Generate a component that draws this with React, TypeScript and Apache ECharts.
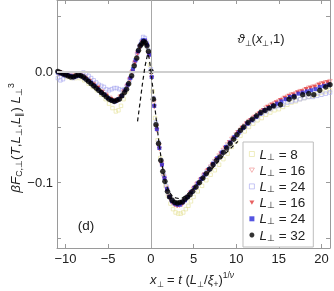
import React, { useEffect, useRef } from 'react';
import * as echarts from 'echarts';

const xTicks = [-10, -5, 0, 5, 10, 15, 20];
const yTicks = [-0.15, -0.1, -0.05, 0, 0.05];
const yLabeled = [-0.1, 0];

const L8open = [
  [-10.8, -0.002], [-10.3, -0.003], [-9.8, -0.005], [-9.3, -0.006], [-8.8, -0.006], [-8.3, -0.006], [-7.8, -0.008], [-7.3, -0.011], [-6.8, -0.014], [-6.3, -0.017], [-5.8, -0.021], [-5.3, -0.025], [-4.9, -0.029], [-4.5, -0.033], [-4.1, -0.036], [-3.8, -0.035], [-3.5, -0.031], [-3.2, -0.025], [-2.9, -0.018], [-2.6, -0.011], [-2.3, -0.003], [-2.0, 0.005], [-1.7, 0.012], [-1.4, 0.019], [-1.1, 0.024], [-0.85, 0.026], [-0.6, 0.025], [-0.35, 0.019], [-0.1, 0.006], [0.2, -0.018], [0.5, -0.042], [0.8, -0.062], [1.1, -0.078], [1.4, -0.092], [1.7, -0.103], [2.0, -0.112], [2.3, -0.119], [2.6, -0.124], [2.9, -0.127], [3.2, -0.128], [3.5, -0.128], [3.8, -0.127], [4.1, -0.124], [4.4, -0.121], [4.7, -0.117], [5.0, -0.113], [5.5, -0.108], [6.0, -0.103], [6.5, -0.098], [7.0, -0.093], [7.5, -0.089], [8.0, -0.084], [8.5, -0.079], [9.0, -0.074], [9.5, -0.068], [10.0, -0.063], [10.5, -0.058], [11.0, -0.054], [11.5, -0.050], [12.0, -0.047], [12.5, -0.044], [13.0, -0.042], [13.5, -0.039], [14.0, -0.037], [14.5, -0.035], [15.0, -0.034], [15.5, -0.032], [16.0, -0.030], [16.5, -0.028], [17.0, -0.027], [17.5, -0.025], [18.0, -0.024], [18.5, -0.023], [19.0, -0.022], [19.5, -0.020], [20.0, -0.019], [20.5, -0.018], [21.0, -0.017],
];

const L16open = [
  [-10.8, -0.002], [-10.3, -0.003], [-9.8, -0.004], [-9.3, -0.004], [-8.8, -0.003], [-8.3, -0.003], [-7.8, -0.005], [-7.3, -0.008], [-6.8, -0.011], [-6.3, -0.014], [-5.8, -0.018], [-5.3, -0.021], [-4.8, -0.024], [-4.4, -0.026], [-4.0, -0.026], [-3.6, -0.023], [-3.2, -0.019], [-2.8, -0.014], [-2.5, -0.008], [-2.2, -0.001], [-1.9, 0.007], [-1.6, 0.015], [-1.3, 0.022], [-1.0, 0.026], [-0.75, 0.027], [-0.5, 0.024], [-0.25, 0.016], [0.05, -0.002], [0.35, -0.028], [0.65, -0.050], [0.95, -0.067], [1.25, -0.083], [1.55, -0.095], [1.85, -0.105], [2.15, -0.113], [2.45, -0.118], [2.75, -0.120], [3.05, -0.121], [3.35, -0.121], [3.65, -0.120], [3.95, -0.117], [4.25, -0.114], [4.6, -0.110], [5.0, -0.106], [5.4, -0.102], [5.8, -0.098], [6.2, -0.094], [6.6, -0.090], [7.0, -0.086], [7.5, -0.081], [8.0, -0.076], [8.5, -0.071], [9.0, -0.066], [9.5, -0.061], [10.0, -0.057], [10.5, -0.053], [11.0, -0.049], [11.5, -0.045], [12.0, -0.042], [12.5, -0.039], [13.0, -0.036], [13.5, -0.033], [14.0, -0.031], [14.5, -0.029], [15.0, -0.027], [15.5, -0.025], [16.0, -0.023], [16.5, -0.021], [17.0, -0.020], [17.5, -0.018], [18.0, -0.017], [18.5, -0.015], [19.0, -0.014], [19.5, -0.013], [20.0, -0.011], [20.5, -0.010], [21.0, -0.009],
];

const L24open = [
  [-10.9, -0.006], [-10.6, -0.008], [-10.3, -0.007], [-10.0, -0.004], [-9.7, -0.002], [-9.4, -0.004], [-9.1, -0.006], [-8.8, -0.005], [-8.5, -0.003], [-8.2, -0.002], [-7.9, -0.001], [-7.6, -0.002], [-7.3, -0.004], [-7.0, -0.006], [-6.7, -0.008], [-6.4, -0.010], [-6.1, -0.012], [-5.8, -0.013], [-5.5, -0.014], [-5.2, -0.016], [-4.9, -0.017], [-4.6, -0.016], [-4.3, -0.015], [-4.0, -0.015], [-3.7, -0.016], [-3.4, -0.017], [-3.1, -0.016], [-2.8, -0.013], [-2.5, -0.008], [-2.2, -0.001], [-1.9, 0.007], [-1.6, 0.016], [-1.35, 0.022], [-1.1, 0.027], [-0.9, 0.031], [-0.7, 0.030], [-0.5, 0.026], [-0.3, 0.019], [0.0, 0.002], [0.3, -0.024], [0.6, -0.046], [0.9, -0.064], [1.2, -0.080], [1.5, -0.093], [1.8, -0.103], [2.1, -0.111], [2.4, -0.116], [2.7, -0.118], [3.0, -0.119], [3.3, -0.119], [3.6, -0.118], [3.9, -0.116], [4.2, -0.114], [4.5, -0.111], [4.8, -0.108], [5.2, -0.104], [5.6, -0.100], [6.0, -0.096], [6.5, -0.091], [7.0, -0.086], [7.5, -0.081], [8.0, -0.077], [8.5, -0.072], [9.0, -0.067], [9.5, -0.062], [10.0, -0.058], [10.5, -0.054], [11.0, -0.050], [11.5, -0.047], [12.0, -0.044], [12.5, -0.041], [13.0, -0.038], [13.5, -0.036], [14.0, -0.034], [14.5, -0.032], [15.0, -0.031], [15.5, -0.030], [16.0, -0.028], [16.5, -0.027], [17.0, -0.026], [17.5, -0.025], [18.0, -0.024], [18.5, -0.023], [19.0, -0.023], [19.5, -0.022], [20.0, -0.021], [20.5, -0.020], [21.0, -0.019],
];

const L16filled = [
  [-10.7, -0.001], [-10.2, -0.002], [-9.7, -0.004], [-9.2, -0.005], [-8.7, -0.004], [-8.2, -0.004], [-7.7, -0.006], [-7.2, -0.009], [-6.7, -0.012], [-6.2, -0.015], [-5.7, -0.019], [-5.2, -0.022], [-4.7, -0.025], [-4.3, -0.027], [-3.9, -0.026], [-3.5, -0.023], [-3.1, -0.018], [-2.75, -0.013], [-2.45, -0.007], [-2.15, 0.000], [-1.85, 0.008], [-1.55, 0.016], [-1.25, 0.022], [-0.95, 0.026], [-0.7, 0.027], [-0.45, 0.023], [-0.2, 0.014], [0.1, -0.006], [0.4, -0.032], [0.7, -0.053], [1.0, -0.070], [1.3, -0.085], [1.6, -0.097], [1.9, -0.107], [2.2, -0.114], [2.5, -0.118], [2.8, -0.120], [3.1, -0.121], [3.4, -0.120], [3.7, -0.119], [4.0, -0.116], [4.35, -0.113], [4.7, -0.109], [5.1, -0.105], [5.5, -0.101], [5.9, -0.097], [6.3, -0.093], [6.7, -0.089], [7.2, -0.084], [7.7, -0.079], [8.2, -0.074], [8.7, -0.069], [9.2, -0.064], [9.7, -0.060], [10.2, -0.055], [10.7, -0.051], [11.2, -0.047], [11.7, -0.044], [12.2, -0.041], [12.7, -0.038], [13.2, -0.035], [13.7, -0.032], [14.2, -0.030], [14.7, -0.028], [15.2, -0.026], [15.7, -0.024], [16.2, -0.022], [16.7, -0.021], [17.2, -0.019], [17.7, -0.018], [18.2, -0.016], [18.7, -0.015], [19.2, -0.014], [19.7, -0.012], [20.2, -0.011], [20.7, -0.010],
];

const L24filled = [
  [-10.9, -0.001], [-10.6, -0.002], [-10.2, -0.003], [-9.8, -0.003], [-9.4, -0.004], [-9.0, -0.005], [-8.6, -0.004], [-8.2, -0.004], [-7.8, -0.006], [-7.4, -0.008], [-7.0, -0.010], [-6.6, -0.013], [-6.2, -0.016], [-5.8, -0.019], [-5.4, -0.021], [-5.0, -0.024], [-4.6, -0.026], [-4.2, -0.027], [-3.8, -0.025], [-3.4, -0.022], [-3.0, -0.017], [-2.7, -0.012], [-2.4, -0.006], [-2.1, 0.002], [-1.8, 0.010], [-1.5, 0.018], [-1.2, 0.024], [-0.95, 0.028], [-0.7, 0.028], [-0.45, 0.024], [-0.2, 0.015], [0.1, -0.005], [0.4, -0.031], [0.7, -0.052], [1.0, -0.069], [1.3, -0.084], [1.6, -0.096], [1.9, -0.106], [2.2, -0.113], [2.5, -0.117], [2.8, -0.119], [3.1, -0.120], [3.4, -0.120], [3.7, -0.118], [4.0, -0.116], [4.3, -0.113], [4.7, -0.109], [5.1, -0.105], [5.5, -0.101], [5.9, -0.097], [6.3, -0.093], [6.8, -0.088], [7.3, -0.083], [7.8, -0.078], [8.3, -0.073], [8.8, -0.068], [9.3, -0.064], [9.8, -0.059], [10.3, -0.055], [10.8, -0.051], [11.3, -0.047], [11.8, -0.044], [12.3, -0.041], [12.8, -0.038], [13.3, -0.035], [13.8, -0.033], [14.3, -0.031], [14.8, -0.029], [15.3, -0.027], [15.8, -0.025], [16.3, -0.023], [16.8, -0.022], [17.3, -0.020], [17.8, -0.019], [18.3, -0.018], [18.8, -0.017], [19.3, -0.016], [19.8, -0.014], [20.3, -0.013], [20.8, -0.012],
];

const L32filled = [
  [-10.9, 0.000], [-10.6, -0.001], [-10.3, -0.002], [-10.0, -0.003], [-9.7, -0.004], [-9.4, -0.005], [-9.1, -0.005], [-8.8, -0.004], [-8.5, -0.003], [-8.2, -0.004], [-7.9, -0.005], [-7.6, -0.007], [-7.3, -0.009], [-7.0, -0.011], [-6.7, -0.013], [-6.4, -0.015], [-6.1, -0.017], [-5.8, -0.019], [-5.5, -0.021], [-5.2, -0.023], [-4.9, -0.025], [-4.6, -0.026], [-4.3, -0.027], [-4.0, -0.026], [-3.7, -0.025], [-3.4, -0.022], [-3.1, -0.019], [-2.85, -0.016], [-2.6, -0.011], [-2.25, -0.004], [-1.95, 0.005], [-1.65, 0.012], [-1.45, 0.019], [-1.25, 0.023], [-1.05, 0.025], [-0.85, 0.027], [-0.65, 0.026], [-0.45, 0.023], [-0.28, 0.018], [0.04, 0.000], [0.3, -0.025], [0.6, -0.048], [0.9, -0.065], [1.17, -0.080], [1.4, -0.090], [1.65, -0.099], [1.95, -0.108], [2.2, -0.113], [2.5, -0.116], [2.8, -0.118], [3.1, -0.1185], [3.4, -0.118], [3.7, -0.1175], [4.0, -0.115], [4.3, -0.113], [4.6, -0.111], [4.9, -0.108], [5.3, -0.104], [5.7, -0.100], [6.1, -0.096], [6.5, -0.092], [6.9, -0.088], [7.3, -0.084], [7.7, -0.080], [8.1, -0.077], [8.5, -0.073], [8.9, -0.069], [9.3, -0.065], [9.7, -0.061], [10.1, -0.057], [10.5, -0.053], [10.9, -0.050], [11.4, -0.046], [11.9, -0.043], [12.4, -0.040], [12.9, -0.037], [13.4, -0.035], [13.9, -0.033], [14.4, -0.031], [15.2, -0.030], [16.2, -0.025], [16.8, -0.023], [17.8, -0.021], [18.5, -0.020], [19.1, -0.021], [19.8, -0.017], [20.5, -0.014], [21.0, -0.012],
];

const theory = [
  [-1.56, -0.045], [-1.3, -0.030], [-1.0, -0.012], [-0.7, 0.004], [-0.45, 0.013], [-0.35, 0.016], [-0.2, 0.012], [0.0, 0.001], [0.3, -0.020], [0.6, -0.041], [0.9, -0.061], [1.2, -0.078], [1.5, -0.092], [1.8, -0.102], [2.1, -0.108], [2.5, -0.112], [2.9, -0.1138], [3.3, -0.1145], [3.7, -0.114], [4.2, -0.111], [4.8, -0.107], [5.5, -0.102], [6.2, -0.096], [7.0, -0.089], [7.8, -0.082], [8.6, -0.075], [9.4, -0.069], [10.2, -0.063],
];

const FONT = 'Liberation Sans, Arial, sans-serif';
const DOWN_TRI = 'path://M0,0L10,0L5,8.66Z';

const legendLabels: Record<string, string> = {
  a: '8',
  b: '16',
  c: '24',
  d: '16',
  e: '24',
  f: '32',
};

const minus = (s: string) => s.replace('-', '\u2212');

export default function App() {
  const ref = useRef<HTMLDivElement>(null);
  useEffect(() => {
    if (!ref.current) return;
    const chart = echarts.init(ref.current, undefined, { renderer: 'svg' });
    const frame = '#9a9a9a';
    const xMin = -11, xMax = 21, yMin = -0.159, yMax = 0.0643;
    const xAxisBase = {
      type: 'value', min: xMin, max: xMax,
      axisLine: { show: true, onZero: false, lineStyle: { color: frame, width: 1 } },
      axisTick: { show: true, inside: true, length: 4, customValues: xTicks, lineStyle: { color: frame } },
      splitLine: { show: false },
    };
    const yAxisBase = {
      type: 'value', min: yMin, max: yMax,
      axisLine: { show: true, onZero: false, lineStyle: { color: frame, width: 1 } },
      axisTick: { show: true, inside: true, length: 4, customValues: yTicks, lineStyle: { color: frame } },
      splitLine: { show: false },
    };
    const richTxt = (size: number) => ({
      n: { fontSize: size, fontFamily: FONT, fill: '#222', color: '#222', lineHeight: 17 },
      i: { fontSize: size, fontFamily: FONT, fontStyle: 'italic', fill: '#222', color: '#222', lineHeight: 17 },
      s: { fontSize: size * 0.65, fontFamily: FONT, fill: '#222', color: '#222', lineHeight: 9, verticalAlign: 'bottom' },
      p: { fontSize: size * 0.65, fontFamily: FONT, fill: '#222', color: '#222', lineHeight: 9, verticalAlign: 'top' },
      pi: { fontSize: size * 0.65, fontFamily: FONT, fontStyle: 'italic', fill: '#222', color: '#222', lineHeight: 9, verticalAlign: 'top' },
    });
    const scatter = (name: string, data: number[][], symbol: string, size: any, style: any, z = 3) => ({
      name, type: 'scatter', data, symbol, symbolSize: size,
      itemStyle: style, z, silent: true,
    });
    const styleA = { color: 'rgba(0,0,0,0)', borderColor: '#e6e29a', borderWidth: 0.8 };
    const styleB = { color: 'rgba(0,0,0,0)', borderColor: '#ee8a8a', borderWidth: 0.8 };
    const styleC = { color: 'rgba(0,0,0,0)', borderColor: '#a6a6f0', borderWidth: 0.8 };
    const styleD = { color: '#e23a3a' };
    const styleE = { color: '#2b2bd9' };
    const styleF = { color: '#000' };
    const option: any = {
      animation: false,
      grid: { left: 57, right: 4, top: -2, bottom: 43 },
      xAxis: [
        { ...xAxisBase, position: 'bottom',
          axisLabel: { customValues: xTicks, formatter: (v: number) => minus(String(v)), color: '#222', fontSize: 13, fontFamily: FONT, margin: 4 } },
        { ...xAxisBase, position: 'top', axisLabel: { show: false } },
      ],
      yAxis: [
        { ...yAxisBase, position: 'left',
          axisLabel: { customValues: yLabeled, formatter: (v: number) => minus(v.toFixed(1)), color: '#222', fontSize: 13, fontFamily: FONT, margin: 4 } },
        { ...yAxisBase, position: 'right', axisLabel: { show: false } },
      ],
      legend: {
        orient: 'vertical', left: 243, top: 142,
        backgroundColor: '#fff', borderColor: '#bdbdbd', borderWidth: 1,
        padding: [5, 8, 5, 6], itemGap: 2.2, itemWidth: 5, itemHeight: 5,
        data: [
          { name: 'a', icon: 'rect', itemStyle: styleA },
          { name: 'b', icon: DOWN_TRI, itemStyle: styleB },
          { name: 'c', icon: 'rect', itemStyle: styleC },
          { name: 'd', icon: DOWN_TRI, itemStyle: styleD },
          { name: 'e', icon: 'rect', itemStyle: styleE },
          { name: 'f', icon: 'circle', itemStyle: styleF },
        ],
        formatter: (n: string) => `{i|L}{s|⊥}{n| = ${legendLabels[n]}}`,
        textStyle: { fontFamily: FONT, fontSize: 13, color: '#222', rich: {
          n: { fontSize: 13.5, fontFamily: FONT, color: '#222', lineHeight: 14 },
          i: { fontSize: 13.5, fontFamily: FONT, fontStyle: 'italic', color: '#222', lineHeight: 14 },
          s: { fontSize: 8.5, fontFamily: FONT, color: '#222', lineHeight: 8, verticalAlign: 'bottom' },
        } },
      },
      series: [
        { ...scatter('a', L8open, 'rect', 3.5, styleA, 1),
          markLine: { silent: true, symbol: 'none', label: { show: false },
            data: [
              { yAxis: 0, lineStyle: { color: '#cfcfcf', width: 2, type: 'solid' } },
              { xAxis: 0, lineStyle: { color: '#a8a8a8', width: 1, type: 'solid' } },
            ] } },
        scatter('b', L16open, DOWN_TRI, [4.5, 4], styleB),
        scatter('c', L24open, 'rect', 3.5, styleC),
        scatter('d', L16filled, DOWN_TRI, [5, 4.4], styleD),
        scatter('e', L24filled, 'rect', 4, styleE),
        scatter('f', L32filled, 'circle', 5.5, styleF, 4),
        { name: 'theory', type: 'line', data: theory, showSymbol: false, symbol: 'none', z: 5, silent: true,
          lineStyle: { color: '#111', width: 1.2, type: [4, 3] } },
      ],
      graphic: [
        { type: 'text', x: 15, y: 138, rotation: Math.PI / 2, z: 100,
          style: { text: '{i|βF}{s|C,⊥}{n|(}{i|T}{n|,}{i|L}{s|⊥}{n|,}{i|L}{s|∥}{n|) }{i|L}{s|⊥}{p|3}',
            rich: richTxt(13.5), align: 'center', verticalAlign: 'middle', textAlign: 'center', textVerticalAlign: 'middle', fill: '#222' } },
        { type: 'text', x: 192, y: 279, z: 100,
          style: { text: '{i|x}{s|⊥}{n| = }{i|t}{n| (}{i|L}{s|⊥}{n|/}{i|ξ}{s|+}{n|)}{p|1/}{pi|ν}',
            rich: richTxt(13), align: 'center', verticalAlign: 'middle', textAlign: 'center', textVerticalAlign: 'middle', fill: '#222' } },
        { type: 'text', x: 261, y: 38, z: 100,
          style: { text: '{i|ϑ}{s|⊥}{n|(}{i|x}{s|⊥}{n|,1)}',
            rich: richTxt(13), align: 'center', verticalAlign: 'middle', textAlign: 'center', textVerticalAlign: 'middle', fill: '#222' } },
        { type: 'text', x: 86, y: 225, z: 100,
          style: { text: '(d)', font: `13.5px ${FONT}`, fill: '#222', align: 'center', verticalAlign: 'middle', textAlign: 'center', textVerticalAlign: 'middle' } },
      ],
    };
    chart.setOption(option);
    return () => chart.dispose();
  }, []);
  return <div ref={ref} style={{ position: 'fixed', left: 0, top: 0, width: 334, height: 291 }} />;
}
